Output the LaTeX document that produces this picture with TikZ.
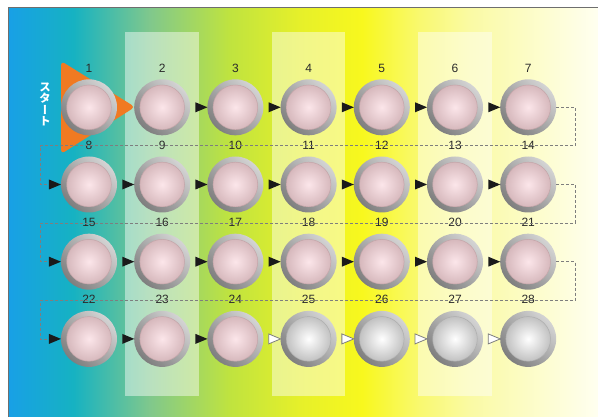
\documentclass[tikz,border=0pt]{standalone}
\usepackage{fontspec}
\setmainfont{Liberation Sans}
\newfontfamily\cjk[RawFeature=+vert]{Noto Sans CJK JP}
\usetikzlibrary{shapes.geometric,calc,shadings}
\definecolor{bgA}{HTML}{18A0E6}
\definecolor{bgB}{HTML}{16B2C2}
\definecolor{bgC}{HTML}{80C88C}
\definecolor{bgD}{HTML}{BFE33F}
\definecolor{bgE}{HTML}{E6F02A}
\definecolor{bgF}{HTML}{F8F81E}
\definecolor{bgG}{HTML}{F9F970}
\definecolor{bgH}{HTML}{FAFAA4}
\definecolor{bgI}{HTML}{FFFFF0}
\definecolor{bordergray}{HTML}{6E6E6E}
\definecolor{startorange}{HTML}{F07A22}
\definecolor{ringA}{HTML}{D4D4D4}
\definecolor{ringD}{HTML}{7E7E7E}
\definecolor{pinkA}{HTML}{FCE6EA}
\definecolor{pinkB}{HTML}{CDADB1}
\definecolor{pinkRim}{HTML}{B8989C}
\definecolor{greyB}{HTML}{B2B2B2}
\definecolor{greyRim}{HTML}{A0A0A0}
\definecolor{numgray}{HTML}{2A2A2A}
\definecolor{dashgray}{HTML}{7E7E7E}
\definecolor{arrblack}{HTML}{1A1A1A}
\pgfdeclarehorizontalshading{bgshade}{100bp}{color(0bp)=(bgA); color(25bp)=(bgA); color(30.5bp)=(bgB); color(37bp)=(bgC); color(43.7bp)=(bgD); color(49.7bp)=(bgE); color(55bp)=(bgF); color(59.9bp)=(bgG); color(64.1bp)=(bgH); color(75bp)=(bgI); color(100bp)=(bgI)}
\begin{document}
\begin{tikzpicture}[x=1pt,y=-1pt,
  ring/.style={circle, minimum size=56pt, inner sep=0pt,
    top color=ringA, bottom color=ringD, shading angle=-45},
  pinkball/.style={path picture={\shade[inner color=pinkA, outer color=pinkB]
    (path picture bounding box.center) circle (22.5pt);
    \draw[pinkRim, line width=0.5pt, opacity=0.6] (path picture bounding box.center) circle (22.3pt);}},
  whiteball/.style={path picture={\shade[inner color=white, outer color=greyB]
    (path picture bounding box.center) circle (22.5pt);
    \draw[greyRim, line width=0.5pt, opacity=0.6] (path picture bounding box.center) circle (22.3pt);}},
  numlbl/.style={font=\fontsize{12}{12}\selectfont, text=numgray, anchor=center, inner sep=0pt},
  arrbase/.style={isosceles triangle, isosceles triangle stretches, shape border rotate=0,
    minimum width=10pt, minimum height=12pt, inner sep=0pt},
  blackarr/.style={arrbase, fill=arrblack},
  whitearr/.style={arrbase, fill=white, draw=dashgray, line width=0.8pt},
  dashline/.style={draw=dashgray, line width=0.8pt, dash pattern=on 3pt off 2pt},
  stripe/.style={fill=white, fill opacity=0.45}
]
\useasboundingbox (0,0) rectangle (598,417);
\fill[white] (0,0) rectangle (598,417);
\shade[shading=bgshade] (8.5,7.5) rectangle (598,417);
\draw[bordergray, line width=1.5pt] (8.5,417) -- (8.5,7.5) -- (598,7.5);
% stripes
\fill[stripe] (125,32) rectangle (199,396);
\fill[stripe] (272,32) rectangle (345,396);
\fill[stripe] (418,32) rectangle (492,396);
% start marker
\fill[startorange, rounded corners=4pt] (61,61) -- (135,107) -- (61,154) -- cycle;
\node[text=white, font=\cjk\bfseries\fontsize{11.5}{11.5}\selectfont, align=center, inner sep=0pt]
  (starttxt) at (45,104.5) {ス\\タ\\ー\\ト};
% circles
\foreach \n in {1,...,24}{
  \pgfmathtruncatemacro\r{(\n-1)/7}
  \pgfmathtruncatemacro\c{mod(\n-1,7)}
  \node[ring, pinkball, label={[numlbl, label distance=11pt]90:\n}] (c\n)
    at ({89+73.2*\c},{107.3+77.2*\r}) {};
}
\foreach \n in {25,...,28}{
  \pgfmathtruncatemacro\r{(\n-1)/7}
  \pgfmathtruncatemacro\c{mod(\n-1,7)}
  \node[ring, whiteball, label={[numlbl, label distance=11pt]90:\n}] (c\n)
    at ({89+73.2*\c},{107.3+77.2*\r}) {};
}
% arrows between circles
\foreach \i in {2,...,6,8,9,10,11,12,13,15,16,17,18,19,20,22,23}{
  \pgfmathtruncatemacro\j{\i+1}
  \path (c\i) -- (c\j) node[midway, blackarr] (a\i) {};
}
\foreach \i in {24,...,27}{
  \pgfmathtruncatemacro\j{\i+1}
  \path (c\i) -- (c\j) node[midway, whitearr] (a\i) {};
}
% row-start arrows and dashed returns
\foreach \i/\k in {7/8,14/15,21/22}{
  \node[blackarr] (s\k) at ([xshift=-8.5pt]c\k.west) {};
  \coordinate (R\i) at ($(c\i.east)+(19,38.6)$);
  \path (R\i) -- ++(-535,0) coordinate (L\i);
  \draw[dashline] (c\i.east) -| (R\i) -- (L\i) |- (s\k.west);
}
\end{tikzpicture}
\end{document}
